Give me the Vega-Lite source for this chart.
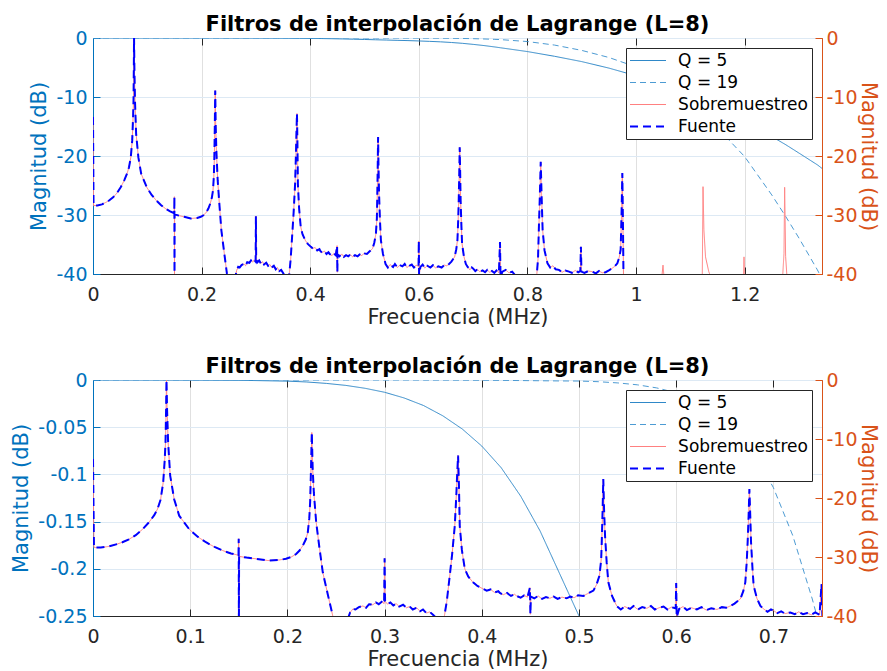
{
  "$schema": "https://vega.github.io/schema/vega-lite/v6.json",
  "background": "white",
  "padding": {"left": 10, "top": 13, "right": 0, "bottom": 0},
  "config": {
    "font": "DejaVu Sans",
    "view": {"stroke": "#262626", "strokeWidth": 1},
    "title": {"font": "DejaVu Sans", "fontSize": 21, "fontWeight": "bold", "color": "black", "anchor": "middle", "frame": "group", "offset": -6},
    "axis": {"labelFont": "DejaVu Sans", "titleFont": "DejaVu Sans", "labelFontSize": 19, "titleFontSize": 21, "titleFontWeight": "normal", "tickSize": -7, "labelFlush": false, "labelOverlap": false, "domainWidth": 1, "tickWidth": 1, "gridWidth": 1},
    "axisX": {"labelPadding": 18, "titlePadding": 2, "domainColor": "#262626", "tickColor": "#262626", "labelColor": "#262626", "titleColor": "#262626", "gridColor": "#e0e0e0"},
    "legend": {"orient": "top-right", "offset": 10, "symbolType": "M-3.6,0H3.6", "symbolSize": 100, "symbolOffset": 9.5, "labelOffset": 21.6, "labelFont": "DejaVu Sans", "labelFontSize": 17, "labelColor": "black", "padding": 4, "rowPadding": 4, "strokeColor": "#262626", "fillColor": "white"}
  },
  "datasets": {
    "filt": [
      {"f": 0, "q5": 0, "q19": 0},
      {"f": 0.1, "q5": -0.0001, "q19": 0},
      {"f": 0.15, "q5": -0.0003, "q19": 0},
      {"f": 0.2, "q5": -0.0012, "q19": 0},
      {"f": 0.22, "q5": -0.0021, "q19": 0},
      {"f": 0.24, "q5": -0.0036, "q19": 0},
      {"f": 0.26, "q5": -0.0057, "q19": 0},
      {"f": 0.28, "q5": -0.0088, "q19": 0},
      {"f": 0.3, "q5": -0.013, "q19": 0},
      {"f": 0.32, "q5": -0.019, "q19": 0},
      {"f": 0.34, "q5": -0.027, "q19": -0.0001},
      {"f": 0.36, "q5": -0.038, "q19": -0.0001},
      {"f": 0.38, "q5": -0.052, "q19": -0.0002},
      {"f": 0.4, "q5": -0.07, "q19": -0.0003},
      {"f": 0.42, "q5": -0.093, "q19": -0.0004},
      {"f": 0.44, "q5": -0.123, "q19": -0.0006},
      {"f": 0.46, "q5": -0.16, "q19": -0.0008},
      {"f": 0.48, "q5": -0.205, "q19": -0.001},
      {"f": 0.5, "q5": -0.25, "q19": -0.0011},
      {"f": 0.52, "q5": -0.3, "q19": -0.0018},
      {"f": 0.54, "q5": -0.345, "q19": -0.0031},
      {"f": 0.56, "q5": -0.395, "q19": -0.0051},
      {"f": 0.58, "q5": -0.44, "q19": -0.0084},
      {"f": 0.6, "q5": -0.5, "q19": -0.0135},
      {"f": 0.62, "q5": -0.57, "q19": -0.0213},
      {"f": 0.64, "q5": -0.65, "q19": -0.0332},
      {"f": 0.66, "q5": -0.76, "q19": -0.051},
      {"f": 0.68, "q5": -0.9, "q19": -0.0775},
      {"f": 0.7, "q5": -1.08, "q19": -0.114},
      {"f": 0.72, "q5": -1.28, "q19": -0.165},
      {"f": 0.74, "q5": -1.52, "q19": -0.232},
      {"f": 0.75, "q5": -1.65, "q19": -0.27},
      {"f": 0.8, "q5": -2.3, "q19": -0.6},
      {"f": 0.85, "q5": -3.1, "q19": -1.2},
      {"f": 0.9, "q5": -4.0, "q19": -2.1},
      {"f": 0.95, "q5": -5.1, "q19": -3.3},
      {"f": 1.0, "q5": -6.4, "q19": -4.9},
      {"f": 1.05, "q5": -7.9, "q19": -7.6},
      {"f": 1.1, "q5": -9.6, "q19": -11.3},
      {"f": 1.165, "q5": -12.6, "q19": -16.7},
      {"f": 1.2, "q5": -14.3, "q19": -20.1},
      {"f": 1.25, "q5": -16.7, "q19": -26.6},
      {"f": 1.276, "q5": -18.1, "q19": -30.3},
      {"f": 1.3, "q5": -19.5, "q19": -33.9},
      {"f": 1.334, "q5": -21.5, "q19": -39.3},
      {"f": 1.3425, "q5": -22.1, "q19": -40.8}
    ],
    "spec": [
      {"f": 0, "over": -13.4, "src": -13.4},
      {"f": 0.001, "over": -28.4, "src": -28.4},
      {"f": 0.008, "over": -28.4, "src": -28.4},
      {"f": 0.0165, "over": -28.2, "src": -28.2},
      {"f": 0.025, "over": -27.8, "src": -27.8},
      {"f": 0.0302, "over": -27.5, "src": -27.5},
      {"f": 0.037, "over": -27.0, "src": -27.0},
      {"f": 0.044, "over": -26.3, "src": -26.3},
      {"f": 0.051, "over": -25.3, "src": -25.3},
      {"f": 0.0577, "over": -24.1, "src": -24.1},
      {"f": 0.063, "over": -22.9, "src": -22.9},
      {"f": 0.0663, "over": -21.9, "src": -21.9},
      {"f": 0.0695, "over": -20.3, "src": -20.3},
      {"f": 0.0722, "over": -17.4, "src": -17.4},
      {"f": 0.0738, "over": -13.5, "src": -13.5},
      {"f": 0.0746, "over": -10.6, "src": -10.6},
      {"f": 0.0752, "over": -5.0, "src": -5.0},
      {"f": 0.0756, "over": 0, "src": 0},
      {"f": 0.0762, "over": -5.0, "src": -5.0},
      {"f": 0.0773, "over": -10.6, "src": -10.6},
      {"f": 0.0794, "over": -16.2, "src": -16.2},
      {"f": 0.0835, "over": -20.2, "src": -20.2},
      {"f": 0.0887, "over": -23.0, "src": -23.0},
      {"f": 0.099, "over": -25.3, "src": -25.3},
      {"f": 0.108, "over": -26.6, "src": -26.6},
      {"f": 0.1162, "over": -27.5, "src": -27.5},
      {"f": 0.125, "over": -28.3, "src": -28.3},
      {"f": 0.1333, "over": -28.9, "src": -28.9},
      {"f": 0.142, "over": -29.4, "src": -29.4},
      {"f": 0.1497, "over": -29.7, "src": -29.7},
      {"f": 0.1499, "over": -26.9, "src": -26.9},
      {"f": 0.1501, "over": -42, "src": -42},
      {"f": 0.1503, "over": -29.9, "src": -29.9},
      {"f": 0.158, "over": -30.1, "src": -30.1},
      {"f": 0.1677, "over": -30.3, "src": -30.3},
      {"f": 0.18, "over": -30.6, "src": -30.6},
      {"f": 0.1918, "over": -30.5, "src": -30.5},
      {"f": 0.1986, "over": -30.3, "src": -30.3},
      {"f": 0.204, "over": -30.0, "src": -30.0},
      {"f": 0.209, "over": -29.5, "src": -29.5},
      {"f": 0.2125, "over": -28.9, "src": -28.9},
      {"f": 0.2158, "over": -28.1, "src": -28.1},
      {"f": 0.219, "over": -27.0, "src": -27.0},
      {"f": 0.221, "over": -25.8, "src": -25.8},
      {"f": 0.2225, "over": -23.5, "src": -23.5},
      {"f": 0.2234, "over": -20.7, "src": -20.7},
      {"f": 0.2243, "over": -15.0, "src": -15.0},
      {"f": 0.2251, "over": -8.9, "src": -8.9},
      {"f": 0.226, "over": -15.0, "src": -15.0},
      {"f": 0.2272, "over": -19.1, "src": -19.1},
      {"f": 0.2296, "over": -24.1, "src": -24.1},
      {"f": 0.233, "over": -28.5, "src": -28.5},
      {"f": 0.2364, "over": -32.6, "src": -32.6},
      {"f": 0.2415, "over": -36.3, "src": -36.3},
      {"f": 0.2467, "over": -40.0, "src": -40.0},
      {"f": 0.252, "over": -43, "src": -43},
      {"f": 0.2585, "over": -43, "src": -43},
      {"f": 0.2622, "over": -40.5, "src": -40.5},
      {"f": 0.2645, "over": -39.4, "src": -39.4},
      {"f": 0.2674, "over": -38.8, "src": -38.8},
      {"f": 0.27, "over": -38.9, "src": -38.9},
      {"f": 0.2735, "over": -38.5, "src": -38.5},
      {"f": 0.2777, "over": -38.3, "src": -38.3},
      {"f": 0.281, "over": -38.6, "src": -38.6},
      {"f": 0.284, "over": -38.0, "src": -38.0},
      {"f": 0.288, "over": -38.1, "src": -38.1},
      {"f": 0.291, "over": -37.7, "src": -37.7},
      {"f": 0.294, "over": -38.0, "src": -38.0},
      {"f": 0.297, "over": -37.6, "src": -37.6},
      {"f": 0.2995, "over": -37.9, "src": -37.9},
      {"f": 0.3, "over": -30.2, "src": -30.2},
      {"f": 0.3005, "over": -37.5, "src": -37.5},
      {"f": 0.303, "over": -38.0, "src": -38.0},
      {"f": 0.306, "over": -37.7, "src": -37.7},
      {"f": 0.309, "over": -38.2, "src": -38.2},
      {"f": 0.312, "over": -37.9, "src": -37.9},
      {"f": 0.315, "over": -38.4, "src": -38.4},
      {"f": 0.319, "over": -38.1, "src": -38.1},
      {"f": 0.3225, "over": -38.6, "src": -38.6},
      {"f": 0.3258, "over": -38.4, "src": -38.4},
      {"f": 0.329, "over": -38.9, "src": -38.9},
      {"f": 0.333, "over": -38.6, "src": -38.6},
      {"f": 0.3365, "over": -39.2, "src": -39.2},
      {"f": 0.3395, "over": -38.9, "src": -38.9},
      {"f": 0.343, "over": -39.5, "src": -39.5},
      {"f": 0.3465, "over": -39.3, "src": -39.3},
      {"f": 0.3498, "over": -39.8, "src": -39.8},
      {"f": 0.353, "over": -40.3, "src": -40.3},
      {"f": 0.357, "over": -41, "src": -41},
      {"f": 0.361, "over": -40.5, "src": -40.5},
      {"f": 0.364, "over": -37.5, "src": -37.5},
      {"f": 0.367, "over": -33.2, "src": -33.2},
      {"f": 0.3695, "over": -29.5, "src": -29.5},
      {"f": 0.3722, "over": -24.7, "src": -24.7},
      {"f": 0.3738, "over": -19.5, "src": -19.5},
      {"f": 0.3746, "over": -16.2, "src": -16.2},
      {"f": 0.3756, "over": -12.8, "src": -12.8},
      {"f": 0.3765, "over": -18.0, "src": -18.0},
      {"f": 0.3773, "over": -24.7, "src": -24.7},
      {"f": 0.3795, "over": -28.8, "src": -28.8},
      {"f": 0.3825, "over": -32.0, "src": -32.0},
      {"f": 0.386, "over": -33.3, "src": -33.3},
      {"f": 0.391, "over": -34.3, "src": -34.3},
      {"f": 0.3955, "over": -34.9, "src": -34.9},
      {"f": 0.4013, "over": -35.4, "src": -35.4},
      {"f": 0.405, "over": -35.7, "src": -35.7},
      {"f": 0.409, "over": -35.5, "src": -35.5},
      {"f": 0.413, "over": -36.0, "src": -36.0},
      {"f": 0.417, "over": -35.8, "src": -35.8},
      {"f": 0.4186, "over": -36.1, "src": -36.1},
      {"f": 0.422, "over": -36.4, "src": -36.4},
      {"f": 0.426, "over": -36.1, "src": -36.1},
      {"f": 0.43, "over": -36.6, "src": -36.6},
      {"f": 0.4335, "over": -36.3, "src": -36.3},
      {"f": 0.4358, "over": -36.6, "src": -36.6},
      {"f": 0.44, "over": -36.9, "src": -36.9},
      {"f": 0.4435, "over": -36.5, "src": -36.5},
      {"f": 0.447, "over": -36.8, "src": -36.8},
      {"f": 0.4495, "over": -35.2, "src": -35.2},
      {"f": 0.45, "over": -39.7, "src": -39.7},
      {"f": 0.4505, "over": -36.7, "src": -36.7},
      {"f": 0.454, "over": -37.0, "src": -37.0},
      {"f": 0.458, "over": -36.6, "src": -36.6},
      {"f": 0.462, "over": -37.1, "src": -37.1},
      {"f": 0.466, "over": -36.8, "src": -36.8},
      {"f": 0.4701, "over": -37.0, "src": -37.0},
      {"f": 0.474, "over": -36.7, "src": -36.7},
      {"f": 0.478, "over": -37.1, "src": -37.1},
      {"f": 0.4825, "over": -36.8, "src": -36.8},
      {"f": 0.4873, "over": -37.0, "src": -37.0},
      {"f": 0.491, "over": -36.7, "src": -36.7},
      {"f": 0.495, "over": -36.9, "src": -36.9},
      {"f": 0.499, "over": -36.5, "src": -36.5},
      {"f": 0.5045, "over": -36.6, "src": -36.6},
      {"f": 0.509, "over": -36.2, "src": -36.2},
      {"f": 0.5148, "over": -35.7, "src": -35.7},
      {"f": 0.518, "over": -34.7, "src": -34.7},
      {"f": 0.521, "over": -33.2, "src": -33.2},
      {"f": 0.5228, "over": -30.5, "src": -30.5},
      {"f": 0.5234, "over": -27.5, "src": -27.5},
      {"f": 0.5243, "over": -22.0, "src": -22.0},
      {"f": 0.525, "over": -16.8, "src": -16.8},
      {"f": 0.5258, "over": -22.0, "src": -22.0},
      {"f": 0.5268, "over": -26.4, "src": -26.4},
      {"f": 0.5285, "over": -31.0, "src": -31.0},
      {"f": 0.5302, "over": -34.3, "src": -34.3},
      {"f": 0.534, "over": -36.6, "src": -36.6},
      {"f": 0.5388, "over": -38.3, "src": -38.3},
      {"f": 0.543, "over": -38.9, "src": -38.9},
      {"f": 0.547, "over": -38.4, "src": -38.4},
      {"f": 0.5526, "over": -38.8, "src": -38.8},
      {"f": 0.556, "over": -38.3, "src": -38.3},
      {"f": 0.5605, "over": -38.9, "src": -38.9},
      {"f": 0.565, "over": -38.5, "src": -38.5},
      {"f": 0.5698, "over": -38.7, "src": -38.7},
      {"f": 0.574, "over": -38.3, "src": -38.3},
      {"f": 0.578, "over": -38.9, "src": -38.9},
      {"f": 0.5825, "over": -38.6, "src": -38.6},
      {"f": 0.587, "over": -38.4, "src": -38.4},
      {"f": 0.591, "over": -38.9, "src": -38.9},
      {"f": 0.595, "over": -38.5, "src": -38.5},
      {"f": 0.5995, "over": -38.7, "src": -38.7},
      {"f": 0.6, "over": -34.4, "src": -34.4},
      {"f": 0.6005, "over": -40.2, "src": -40.2},
      {"f": 0.603, "over": -38.8, "src": -38.8},
      {"f": 0.607, "over": -38.4, "src": -38.4},
      {"f": 0.611, "over": -39.0, "src": -39.0},
      {"f": 0.6155, "over": -38.6, "src": -38.6},
      {"f": 0.6213, "over": -38.9, "src": -38.9},
      {"f": 0.626, "over": -38.5, "src": -38.5},
      {"f": 0.631, "over": -39.0, "src": -39.0},
      {"f": 0.636, "over": -38.7, "src": -38.7},
      {"f": 0.642, "over": -38.9, "src": -38.9},
      {"f": 0.647, "over": -38.5, "src": -38.5},
      {"f": 0.6515, "over": -38.6, "src": -38.6},
      {"f": 0.6557, "over": -38.3, "src": -38.3},
      {"f": 0.66, "over": -37.9, "src": -37.9},
      {"f": 0.663, "over": -37.5, "src": -37.5},
      {"f": 0.666, "over": -37.1, "src": -37.1},
      {"f": 0.669, "over": -35.8, "src": -35.8},
      {"f": 0.6711, "over": -34.3, "src": -34.3},
      {"f": 0.6725, "over": -31.0, "src": -31.0},
      {"f": 0.6735, "over": -27.5, "src": -27.5},
      {"f": 0.6745, "over": -23.0, "src": -23.0},
      {"f": 0.6753, "over": -18.5, "src": -18.5},
      {"f": 0.6762, "over": -23.0, "src": -23.0},
      {"f": 0.677, "over": -27.5, "src": -27.5},
      {"f": 0.6785, "over": -32.0, "src": -32.0},
      {"f": 0.6797, "over": -34.9, "src": -34.9},
      {"f": 0.683, "over": -37.0, "src": -37.0},
      {"f": 0.6866, "over": -38.3, "src": -38.3},
      {"f": 0.69, "over": -38.8, "src": -38.8},
      {"f": 0.694, "over": -39.3, "src": -39.3},
      {"f": 0.6975, "over": -38.9, "src": -38.9},
      {"f": 0.7003, "over": -39.1, "src": -39.1},
      {"f": 0.704, "over": -39.5, "src": -39.5},
      {"f": 0.708, "over": -39.2, "src": -39.2},
      {"f": 0.712, "over": -39.6, "src": -39.6},
      {"f": 0.7175, "over": -39.4, "src": -39.4},
      {"f": 0.722, "over": -39.7, "src": -39.7},
      {"f": 0.726, "over": -39.3, "src": -39.3},
      {"f": 0.7305, "over": -39.7, "src": -39.7},
      {"f": 0.7347, "over": -39.5, "src": -39.5},
      {"f": 0.739, "over": -39.8, "src": -39.8},
      {"f": 0.743, "over": -39.4, "src": -39.4},
      {"f": 0.7475, "over": -39.8, "src": -39.8},
      {"f": 0.7495, "over": -34.6, "src": -34.6},
      {"f": 0.7505, "over": -40.5, "src": -40.5},
      {"f": 0.754, "over": -39.6, "src": -39.6},
      {"f": 0.76, "over": -39.3, "src": -39.3},
      {"f": 0.766, "over": -39.8, "src": -39.8},
      {"f": 0.772, "over": -39.6, "src": -39.6},
      {"f": 0.778, "over": -40.3, "src": -40.3},
      {"f": 0.784, "over": -40.6, "src": -40.6},
      {"f": 0.79, "over": -40.2, "src": -40.2},
      {"f": 0.797, "over": -41, "src": -41},
      {"f": 0.805, "over": -41, "src": -41},
      {"f": 0.812, "over": -40.6, "src": -40.6},
      {"f": 0.817, "over": -40.4, "src": -40.4},
      {"f": 0.8195, "over": -37.5, "src": -37.5},
      {"f": 0.821, "over": -32.5, "src": -32.5},
      {"f": 0.8228, "over": -27.0, "src": -27.0},
      {"f": 0.8245, "over": -21.0, "src": -21.0},
      {"f": 0.8262, "over": -27.0, "src": -27.0},
      {"f": 0.828, "over": -32.5, "src": -32.5},
      {"f": 0.8315, "over": -36.0, "src": -36.0},
      {"f": 0.837, "over": -38.2, "src": -38.2},
      {"f": 0.842, "over": -38.9, "src": -38.9},
      {"f": 0.847, "over": -38.6, "src": -38.6},
      {"f": 0.852, "over": -39.2, "src": -39.2},
      {"f": 0.858, "over": -39.3, "src": -39.3},
      {"f": 0.864, "over": -39.7, "src": -39.7},
      {"f": 0.87, "over": -39.4, "src": -39.4},
      {"f": 0.8766, "over": -39.6, "src": -39.6},
      {"f": 0.882, "over": -39.8, "src": -39.8},
      {"f": 0.888, "over": -39.4, "src": -39.4},
      {"f": 0.8935, "over": -39.7, "src": -39.7},
      {"f": 0.8975, "over": -39.5, "src": -39.5},
      {"f": 0.8985, "over": -35.4, "src": -35.4},
      {"f": 0.8995, "over": -39.6, "src": -39.6},
      {"f": 0.905, "over": -39.8, "src": -39.8},
      {"f": 0.912, "over": -39.5, "src": -39.5},
      {"f": 0.9196, "over": -39.6, "src": -39.6},
      {"f": 0.926, "over": -39.9, "src": -39.9},
      {"f": 0.932, "over": -39.5, "src": -39.5},
      {"f": 0.938, "over": -39.8, "src": -39.8},
      {"f": 0.944, "over": -39.7, "src": -39.7},
      {"f": 0.95, "over": -39.4, "src": -39.4},
      {"f": 0.9564, "over": -39.0, "src": -39.0},
      {"f": 0.961, "over": -38.7, "src": -38.7},
      {"f": 0.9656, "over": -38.2, "src": -38.2},
      {"f": 0.969, "over": -37.2, "src": -37.2},
      {"f": 0.9717, "over": -35.9, "src": -35.9},
      {"f": 0.9733, "over": -30.0, "src": -30.0},
      {"f": 0.9748, "over": -22.9, "src": -22.9},
      {"f": 0.976, "over": -32.0, "src": -32.0},
      {"f": 0.977, "over": -41, "src": -41},
      {"f": 0.985, "over": -44},
      {"f": 1.04, "over": -44},
      {"f": 1.047, "over": -41},
      {"f": 1.0497, "over": -38.5},
      {"f": 1.052, "over": -41},
      {"f": 1.06, "over": -44},
      {"f": 1.118, "over": -44},
      {"f": 1.122, "over": -40.5},
      {"f": 1.1234, "over": -25.2},
      {"f": 1.125, "over": -32.5},
      {"f": 1.128, "over": -37.1},
      {"f": 1.134, "over": -39.6},
      {"f": 1.14, "over": -41},
      {"f": 1.15, "over": -44},
      {"f": 1.195, "over": -44},
      {"f": 1.1975, "over": -41},
      {"f": 1.1989, "over": -37.1},
      {"f": 1.2005, "over": -41},
      {"f": 1.21, "over": -44},
      {"f": 1.265, "over": -44},
      {"f": 1.27, "over": -40.5},
      {"f": 1.2725, "over": -36.5},
      {"f": 1.2737, "over": -25.3},
      {"f": 1.2755, "over": -37},
      {"f": 1.278, "over": -40.5},
      {"f": 1.285, "over": -44},
      {"f": 1.3425, "over": -44}
    ]
  },
  "resolve": {"scale": {"color": "independent", "strokeDash": "independent"}},
  "spacing": 27,
  "vconcat": [
    {
      "width": 729,
      "height": 236,
      "title": {"text": "Filtros de interpolación de Lagrange (L=8)"},
      "resolve": {"scale": {"y": "independent"}, "axis": {"x": "independent"}},
      "layer": [
        {
          "data": {"name": "filt"},
          "transform": [{"fold": ["q5", "q19"], "as": ["serie", "db"]}],
          "mark": {"type": "line", "clip": true, "strokeWidth": 1},
          "encoding": {
            "x": {"field": "f", "type": "quantitative", "scale": {"domain": [0, 1.3425], "nice": false, "zero": false},
                  "axis": {"title": "Frecuencia (MHz)", "values": [0, 0.2, 0.4, 0.6, 0.8, 1, 1.2], "format": "~g", "grid": true}},
            "y": {"field": "db", "type": "quantitative", "scale": {"domain": [-40, 0], "nice": false, "zero": false},
                  "axis": {"orient": "left", "title": "Magnitud (dB)", "values": [-40, -30, -20, -10, 0], "labelExpr": "datum.value < 0 ? '-' + format(-datum.value, '~g') : format(datum.value, '~g')", "grid": true, "gridColor": "#dde9f4", "domainColor": "#0072BD", "tickColor": "#0072BD", "labelColor": "#0072BD", "titleColor": "#0072BD", "labelPadding": 13, "titlePadding": 6}},
            "color": {"field": "serie", "type": "nominal", "scale": {"domain": ["q5", "q19", "over", "src"], "range": ["#2f88c8", "#4d9bd3", "#ff8080", "#0000ff"]},
                      "legend": {"title": null, "labelExpr": "datum.label == 'q5' ? 'Q = 5' : datum.label == 'q19' ? 'Q = 19' : datum.label == 'over' ? 'Sobremuestreo' : 'Fuente'", "encode": {"symbols": {"update": {"strokeWidth": {"signal": "datum.value == 'src' ? 2 : 1"}}}}}},
            "strokeDash": {"field": "serie", "type": "nominal", "scale": {"domain": ["q5", "q19", "over", "src"], "range": [[1, 0], [6, 4], [1, 0], [8, 5]]},
                      "legend": {"title": null, "labelExpr": "datum.label == 'q5' ? 'Q = 5' : datum.label == 'q19' ? 'Q = 19' : datum.label == 'over' ? 'Sobremuestreo' : 'Fuente'", "encode": {"symbols": {"update": {"strokeWidth": {"signal": "datum.value == 'src' ? 2 : 1"}}}}}}
          }
        },
        {
          "layer": [
            {
              "data": {"name": "spec"},
              "transform": [{"fold": ["over"], "as": ["serie", "db"]}],
              "mark": {"type": "line", "clip": true, "strokeWidth": 1},
              "encoding": {
                "x": {"field": "f", "type": "quantitative", "axis": {"orient": "top", "values": [0, 0.2, 0.4, 0.6, 0.8, 1, 1.2], "labels": false, "title": null, "domain": false, "grid": false}},
                "y": {"field": "db", "type": "quantitative", "scale": {"domain": [-40, 0], "nice": false, "zero": false},
                      "axis": {"orient": "right", "title": "Magnitud (dB)", "values": [-40, -30, -20, -10, 0], "labelExpr": "datum.value < 0 ? '-' + format(-datum.value, '~g') : format(datum.value, '~g')", "grid": false, "domainColor": "#D95319", "tickColor": "#D95319", "labelColor": "#D95319", "titleColor": "#D95319", "labelPadding": 11, "titlePadding": 0}},
                "color": {"field": "serie", "type": "nominal"},
                "strokeDash": {"field": "serie", "type": "nominal"}
              }
            },
            {
              "data": {"name": "spec"},
              "transform": [{"fold": ["src"], "as": ["serie", "db"]}],
              "mark": {"type": "line", "clip": true, "strokeWidth": 2},
              "encoding": {
                "x": {"field": "f", "type": "quantitative"},
                "y": {"field": "db", "type": "quantitative"},
                "color": {"field": "serie", "type": "nominal"},
                "strokeDash": {"field": "serie", "type": "nominal"}
              }
            }
          ]
        }
      ]
    },
    {
      "width": 729,
      "height": 236,
      "title": {"text": "Filtros de interpolación de Lagrange (L=8)"},
      "resolve": {"scale": {"y": "independent"}, "axis": {"x": "independent"}},
      "layer": [
        {
          "data": {"name": "filt"},
          "transform": [{"fold": ["q5", "q19"], "as": ["serie", "db"]}],
          "mark": {"type": "line", "clip": true, "strokeWidth": 1},
          "encoding": {
            "x": {"field": "f", "type": "quantitative", "scale": {"domain": [0, 0.75], "nice": false, "zero": false},
                  "axis": {"title": "Frecuencia (MHz)", "values": [0, 0.1, 0.2, 0.3, 0.4, 0.5, 0.6, 0.7], "format": "~g", "grid": true}},
            "y": {"field": "db", "type": "quantitative", "scale": {"domain": [-0.25, 0], "nice": false, "zero": false},
                  "axis": {"orient": "left", "title": "Magnitud (dB)", "values": [-0.25, -0.2, -0.15, -0.1, -0.05, 0], "labelExpr": "datum.value < 0 ? '-' + format(-datum.value, '~g') : format(datum.value, '~g')", "grid": true, "gridColor": "#dde9f4", "domainColor": "#0072BD", "tickColor": "#0072BD", "labelColor": "#0072BD", "titleColor": "#0072BD", "labelPadding": 13, "titlePadding": 6}},
            "color": {"field": "serie", "type": "nominal", "scale": {"domain": ["q5", "q19", "over", "src"], "range": ["#2f88c8", "#4d9bd3", "#ff8080", "#0000ff"]},
                      "legend": {"title": null, "labelExpr": "datum.label == 'q5' ? 'Q = 5' : datum.label == 'q19' ? 'Q = 19' : datum.label == 'over' ? 'Sobremuestreo' : 'Fuente'", "encode": {"symbols": {"update": {"strokeWidth": {"signal": "datum.value == 'src' ? 2 : 1"}}}}}},
            "strokeDash": {"field": "serie", "type": "nominal", "scale": {"domain": ["q5", "q19", "over", "src"], "range": [[1, 0], [6, 4], [1, 0], [8, 5]]},
                      "legend": {"title": null, "labelExpr": "datum.label == 'q5' ? 'Q = 5' : datum.label == 'q19' ? 'Q = 19' : datum.label == 'over' ? 'Sobremuestreo' : 'Fuente'", "encode": {"symbols": {"update": {"strokeWidth": {"signal": "datum.value == 'src' ? 2 : 1"}}}}}}
          }
        },
        {
          "layer": [
            {
              "data": {"name": "spec"},
              "transform": [{"fold": ["over"], "as": ["serie", "db"]}],
              "mark": {"type": "line", "clip": true, "strokeWidth": 1},
              "encoding": {
                "x": {"field": "f", "type": "quantitative", "axis": {"orient": "top", "values": [0, 0.1, 0.2, 0.3, 0.4, 0.5, 0.6, 0.7], "labels": false, "title": null, "domain": false, "grid": false}},
                "y": {"field": "db", "type": "quantitative", "scale": {"domain": [-40, 0], "nice": false, "zero": false},
                      "axis": {"orient": "right", "title": "Magnitud (dB)", "values": [-40, -30, -20, -10, 0], "labelExpr": "datum.value < 0 ? '-' + format(-datum.value, '~g') : format(datum.value, '~g')", "grid": false, "domainColor": "#D95319", "tickColor": "#D95319", "labelColor": "#D95319", "titleColor": "#D95319", "labelPadding": 11, "titlePadding": 0}},
                "color": {"field": "serie", "type": "nominal"},
                "strokeDash": {"field": "serie", "type": "nominal"}
              }
            },
            {
              "data": {"name": "spec"},
              "transform": [{"fold": ["src"], "as": ["serie", "db"]}],
              "mark": {"type": "line", "clip": true, "strokeWidth": 2},
              "encoding": {
                "x": {"field": "f", "type": "quantitative"},
                "y": {"field": "db", "type": "quantitative"},
                "color": {"field": "serie", "type": "nominal"},
                "strokeDash": {"field": "serie", "type": "nominal"}
              }
            }
          ]
        }
      ]
    }
  ]
}
